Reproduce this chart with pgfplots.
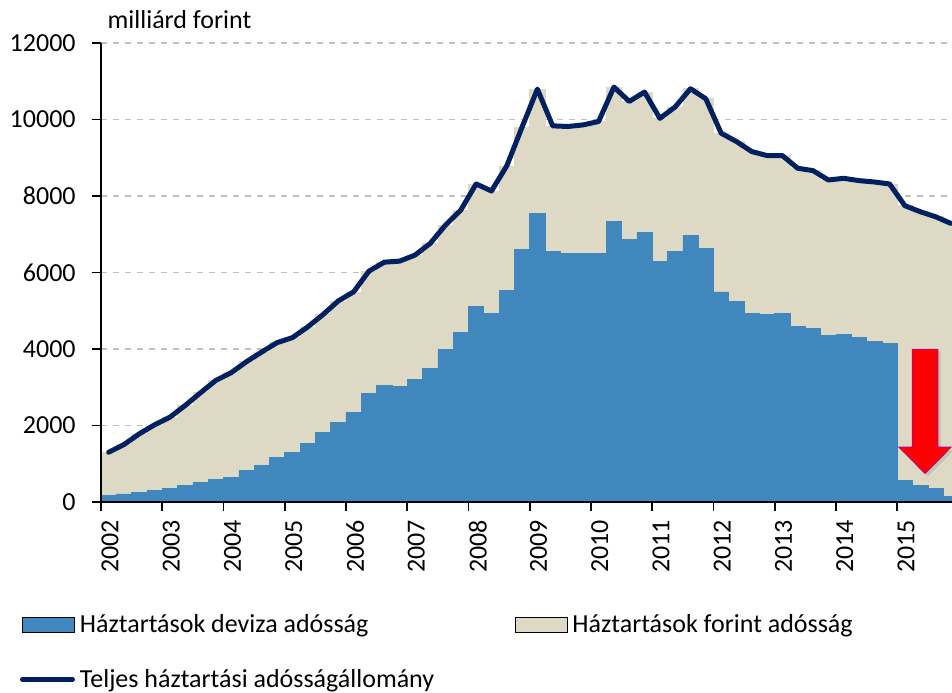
\documentclass[border=0pt]{standalone}
\usepackage{fontspec}
\setmainfont{Carlito}
\usepackage{pgfplots}
\pgfplotsset{compat=1.18}
\usepackage{pgfplotstable}
\usetikzlibrary{shadows}

\definecolor{devblue}{HTML}{3F87BC}
\definecolor{ftbeige}{HTML}{DDD9C4}
\definecolor{navy}{HTML}{002060}
\definecolor{gridgray}{HTML}{BFBFBF}
\definecolor{arrowedge}{HTML}{C8006A}

\pgfplotsset{
  /pgfplots/layers/gridbelow/.define layer set={
    axis background,axis grid,main,axis ticks,axis lines,
    axis tick labels,axis descriptions,axis foreground
  }{/pgfplots/layers/standard},
  patchlegend/.style={legend image code/.code={\fill[##1] (0pt,0.15pt) rectangle (26pt,7.3pt);}},
  linelegend/.style={legend image code/.code={\draw[##1] (0.25pt,4pt) -- (25.25pt,4pt);}},
}

% quarter index (0 = 2002 Q1), FX debt, total debt (billion HUF)
\pgfplotstableread{
q dev tot
0 166 1301
1 210 1502
2 245 1782
3 306 2018
4 349 2218
5 428 2524
6 507 2856
7 585 3179
8 638 3380
9 821 3668
10 952 3922
11 1162 4166
12 1293 4297
13 1537 4577
14 1817 4900
15 2079 5258
16 2349 5494
17 2838 6035
18 3039 6270
19 3022 6297
20 3214 6454
21 3494 6760
22 3991 7240
23 4437 7633
24 5118 8315
25 4926 8131
26 5537 8786
27 6603 9800
28 7555 10795
29 6559 9834
30 6489 9817
31 6507 9860
32 6507 9948
33 7328 10848
34 6856 10472
35 7057 10717
36 6297 10030
37 6542 10330
38 6979 10804
39 6629 10542
40 5494 9642
41 5249 9424
42 4926 9162
43 4900 9057
44 4935 9057
45 4594 8725
46 4533 8664
47 4358 8419
48 4385 8463
49 4297 8402
50 4201 8367
51 4140 8315
52 559 7747
53 428 7590
54 358 7459
55 148 7284
}\data

\begin{document}
\fontsize{13}{15.6}\selectfont
\begin{tikzpicture}
\begin{axis}[
  name=ax,
  set layers=gridbelow,
  at={(50.5pt,95pt)}, anchor=south west,
  scale only axis, width=425.5pt, height=229.5pt,
  xmin=0, xmax=55.58, ymin=0, ymax=12000,
  enlargelimits=false,
  axis x line=bottom, axis y line=left,
  axis line style={-, black, line width=1pt},
  xtick={0,4,...,52},
  xticklabels={2002,2003,2004,2005,2006,2007,2008,2009,2010,2011,2012,2013,2014,2015},
  ytick={0,2000,...,12000},
  scaled y ticks=false,
  tick align=outside,
  major tick length=4.5pt,
  tick style={black, line width=0.8pt},
  ymajorgrids,
  grid style={gridgray, dashed, line width=0.6pt},
  /pgf/number format/1000 sep={},
  /pgf/number format/assume math mode=true,
  every tick label/.append style={font=\fontsize{13}{15.6}\selectfont},
  yticklabel style={anchor=east, inner sep=0pt, xshift=-8pt},
  xticklabel shift=4.3pt,
  xticklabel style={rotate=90, anchor=north east, inner sep=0pt},
  legend style={
    at={(-0.0952,-0.2447)}, anchor=north west,
    draw=none, fill=none, inner sep=0pt, outer sep=0pt,
    column sep=0pt, row sep=15.5pt,
    cells={anchor=base west},
    nodes={inner sep=0pt, text height=9pt, text depth=3pt,
           font=\fontsize{13}{15.6}\selectfont},
  },
  legend columns=2,
]
\addlegendimage{patchlegend, fill=devblue}
\addlegendentry{\makebox[219.85pt][l]{\hspace*{2.5pt}Háztartások deviza adósság}}
\addlegendimage{patchlegend, fill=ftbeige}
\addlegendentry{\hspace*{2.5pt}Háztartások forint adósság}
\addlegendimage{linelegend, navy, line width=2.5pt, line cap=round}
\addlegendentry{\hspace*{2.5pt}Teljes háztartási adósságállomány}

\addplot[ybar, bar width=1, bar shift=0pt, fill=ftbeige, draw=ftbeige, line width=0.3pt, forget plot]
  table[x expr=\thisrow{q}+0.5, y=tot] {\data};
\addplot[ybar, bar width=1, bar shift=0pt, fill=devblue, draw=devblue, line width=0.3pt, forget plot]
  table[x expr=\thisrow{q}+0.5, y=dev] {\data};
\addplot[navy, line width=2.5pt, line join=round, line cap=round, mark=none, forget plot]
  table[x expr=\thisrow{q}+0.5, y=tot] {\data};

\fill[red, draw=arrowedge, line width=0.6pt, line join=miter,
      drop shadow={opacity=0.25, shadow xshift=1.5pt, shadow yshift=-1.5pt}]
  (axis cs:52.99,3990) -- (axis cs:54.65,3990) -- (axis cs:54.65,1430)
  -- (axis cs:55.5,1430) -- (axis cs:53.82,750) -- (axis cs:52.14,1430)
  -- (axis cs:52.99,1430) -- cycle;
\end{axis}
\node[anchor=base west, inner sep=0pt] at ([xshift=3.15pt, yshift=7.35pt]ax.north west) {milliárd forint};
\pgfresetboundingbox
\path[use as bounding box] (0,0) rectangle (476pt,346pt);
\end{tikzpicture}
\end{document}
